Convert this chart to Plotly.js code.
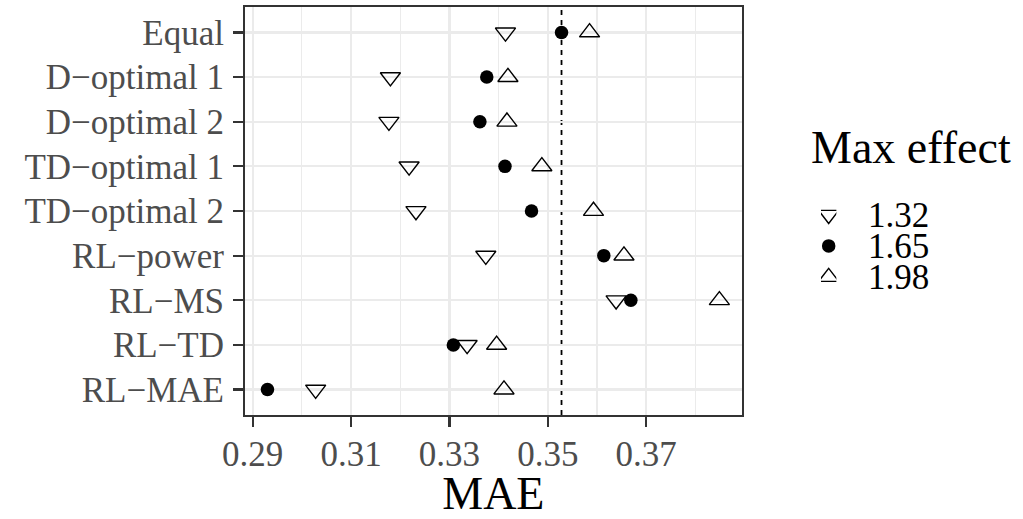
<!DOCTYPE html>
<html>
<head>
<meta charset="utf-8">
<script src="https://cdn.plot.ly/plotly-3.0.1.min.js"></script>
<style>html,body{margin:0;padding:0;background:#fff;}#chart{width:1023px;height:519px;}</style>
</head>
<body>
<div id="chart"></div>
<script>
// ---- data ----
const methods = ['Equal','D\u2212optimal 1','D\u2212optimal 2','TD\u2212optimal 1','TD\u2212optimal 2','RL\u2212power','RL\u2212MS','RL\u2212TD','RL\u2212MAE'];
const effectLabels = ['1.32','1.65','1.98'];
const mae132 = [0.3414,0.3180,0.3177,0.3218,0.3232,0.3374,0.3639,0.3336,0.3028];
const mae165 = [0.3528,0.3376,0.3362,0.3413,0.3467,0.3614,0.3669,0.3308,0.2930];
const mae198 = [0.3585,0.3419,0.3417,0.3488,0.3593,0.3655,0.3849,0.3396,0.3411];
const referenceLine = mae165[0]; // Equal design at max effect 1.65
const xTickVals = [0.29,0.31,0.33,0.35,0.37];

const FONT = 'Liberation Serif, Times New Roman, serif';
const series = [mae132, mae165, mae198];
const markerStyles = [
  {symbol:'triangle-down-open', size:17.5, color:'#000', line:{width:1.4,color:'#000'}},
  {symbol:'circle', size:13.5, color:'#000', line:{width:0}},
  {symbol:'triangle-up-open', size:17.5, color:'#000', line:{width:1.4,color:'#000'}}
];

const traces = series.map((vals,i)=>({
  type:'scatter', mode:'markers', x:vals, y:methods,
  xaxis:'x', yaxis:'y', name:effectLabels[i], showlegend:false,
  marker:markerStyles[i], cliponaxis:false, hoverinfo:'x+y'
}));
// legend keys on a helper axis pair
effectLabels.forEach((lab,i)=>{
  traces.push({type:'scatter', mode:'markers', x:[0], y:[i], xaxis:'x2', yaxis:'y2',
    showlegend:false, marker:markerStyles[i], hoverinfo:'skip'});
});

const annotations = [{
  text:'Max effect', xref:'paper', yref:'paper', x:0.7345, y:0.655, xanchor:'left', yanchor:'middle',
  showarrow:false, font:{family:FONT, size:46, color:'#000'}
}];
effectLabels.forEach((lab,i)=>{
  annotations.push({text:lab, xref:'paper', yref:'y2', x:0.809, y:i, xanchor:'left', yanchor:'middle',
    height:30, showarrow:false, font:{family:FONT, size:35, color:'#000'}});
});

const layout = {
  width:1023, height:519,
  margin:{l:245, r:10, t:7, b:104},
  paper_bgcolor:'#fff', plot_bgcolor:'#fff',
  showlegend:false,
  font:{family:FONT},
  xaxis:{
    domain:[0,0.6468], range:[0.28843,0.38945], autorange:false,
    tickvals:xTickVals, ticktext:xTickVals.map(v=>v.toFixed(2)),
    ticks:'outside', ticklen:10, tickwidth:2.2, tickcolor:'#333333',
    showline:true, mirror:true, linecolor:'#333333', linewidth:2,
    showgrid:true, gridcolor:'#EBEBEB', gridwidth:2.2, zeroline:false,
    minor:{tick0:0.30, dtick:0.02, showgrid:true, gridcolor:'#EBEBEB', gridwidth:1.2},
    tickfont:{family:FONT, size:35, color:'#4D4D4D'},
    ticklabelstandoff:-3,
    title:{text:'MAE', font:{family:FONT, size:46, color:'#000'}, standoff:2},
    automargin:false
  },
  yaxis:{
    domain:[0,1], type:'category', categoryorder:'array', categoryarray:methods,
    range:[8.57,-0.57], autorange:false,
    ticks:'outside', ticklen:10, tickwidth:2.2, tickcolor:'#333333',
    showline:true, mirror:true, linecolor:'#333333', linewidth:2,
    showgrid:true, gridcolor:'#EBEBEB', gridwidth:2.2, zeroline:false,
    tickfont:{family:FONT, size:35, color:'#4D4D4D'},
    ticklabelstandoff:2, automargin:false
  },
  xaxis2:{domain:[0.75,0.77], range:[-1,1], visible:false, anchor:'y2', fixedrange:true},
  yaxis2:{domain:[0.300,0.529], range:[2.5,-0.5], autorange:false, visible:false, anchor:'x2', fixedrange:true},
  shapes:[{type:'line', xref:'x', yref:'paper', x0:referenceLine, x1:referenceLine, y0:0, y1:1,
    line:{color:'#000', width:1.8, dash:'5px,5px'}, layer:'below'}],
  annotations:annotations
};

Plotly.newPlot('chart', traces, layout, {displayModeBar:false, staticPlot:true});
</script>
</body>
</html>
